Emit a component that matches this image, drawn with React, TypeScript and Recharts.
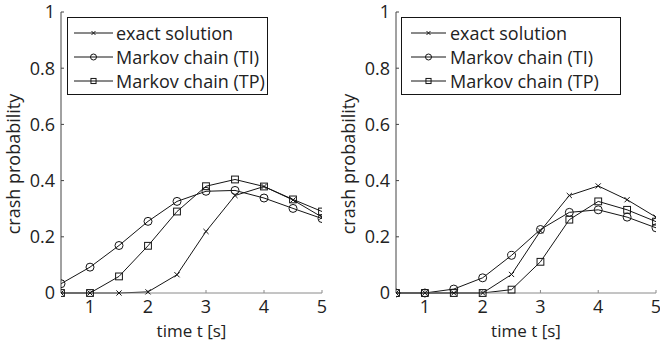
import React from "react";
import { LineChart, Line, XAxis, YAxis, Legend, Label } from "recharts";

const times = [0.5, 1, 1.5, 2, 2.5, 3, 3.5, 4, 4.5, 5];

const leftExact = [0, 0, 0, 0.004, 0.065, 0.219, 0.347, 0.379, 0.331, 0.27];
const leftTI = [0.033, 0.092, 0.169, 0.255, 0.326, 0.362, 0.365, 0.338, 0.301, 0.265];
const leftTP = [0, 0, 0.059, 0.168, 0.29, 0.38, 0.404, 0.379, 0.333, 0.29];

const rightExact = [0, 0, 0, 0, 0.066, 0.221, 0.347, 0.381, 0.332, 0.27];
const rightTI = [0, 0, 0.014, 0.054, 0.134, 0.226, 0.287, 0.296, 0.27, 0.232];
const rightTP = [0, 0, 0, 0, 0.012, 0.111, 0.261, 0.326, 0.296, 0.254];

const xTicks = [1, 2, 3, 4, 5];
const yTicks = [0, 0.2, 0.4, 0.6, 0.8, 1];
const yTickLabels = ["0", "0.2", "0.4", "0.6", "0.8", "1"];

const seriesNames = {
  exact: "exact solution",
  ti: "Markov chain (TI)",
  tp: "Markov chain (TP)",
};

const FONT = "'Open Sans', sans-serif";
const INK = "#151515";

type Kind = "exact" | "ti" | "tp";

function Marker({ kind, cx, cy, s }: { kind: Kind; cx: number; cy: number; s: number }) {
  if (kind === "exact") {
    const h = s * 0.65;
    return (
      <g stroke={INK} strokeWidth={1} fill="none">
        <line x1={cx - h} y1={cy - h} x2={cx + h} y2={cy + h} />
        <line x1={cx - h} y1={cy + h} x2={cx + h} y2={cy - h} />
      </g>
    );
  }
  if (kind === "ti") {
    return <circle cx={cx} cy={cy} r={s} stroke={INK} strokeWidth={1} fill="none" />;
  }
  return (
    <rect
      x={cx - s * 0.85}
      y={cy - s * 0.85}
      width={s * 1.7}
      height={s * 1.7}
      stroke={INK}
      strokeWidth={1}
      fill="none"
    />
  );
}

function makeDot(kind: Kind) {
  return (props: any) => {
    const { cx, cy, index } = props;
    if (cx == null || cy == null) return <g key={`${kind}-${index}`} />;
    return (
      <g key={`${kind}-${index}`}>
        <Marker kind={kind} cx={cx} cy={cy} s={4} />
      </g>
    );
  };
}

function buildRows(exact: number[], ti: number[], tp: number[]) {
  return times.map((t, i) => ({ t, exact: exact[i], ti: ti[i], tp: tp[i] }));
}

interface PanelProps {
  exact: number[];
  ti: number[];
  tp: number[];
  yAxisWidth: number;
  rightMargin: number;
  legendLeft: number;
  legendWidth: number;
  legendLineStart: number;
  legendLineEnd: number;
}

function Panel(p: PanelProps) {
  const rows = buildRows(p.exact, p.ti, p.tp);
  const plotCenterX = p.yAxisWidth + (330 - p.yAxisWidth - p.rightMargin) / 2;
  const yLabelX = p.yAxisWidth - 48;

  const renderLegend = () => (
    <div
      style={{
        width: p.legendWidth,
        height: 73,
        border: `1px solid ${INK}`,
        background: "#fff",
        boxSizing: "content-box",
        paddingTop: 3,
        fontFamily: FONT,
        fontSize: 18,
        color: "#222",
      }}
    >
      {(Object.keys(seriesNames) as Kind[]).map((k) => (
        <div key={k} style={{ display: "flex", alignItems: "center", height: 24 }}>
          <svg width={48} height={24} style={{ flex: "none" }}>
            <line x1={p.legendLineStart} y1={12} x2={p.legendLineEnd} y2={12} stroke={INK} strokeWidth={1} />
            <Marker kind={k} cx={(p.legendLineStart + p.legendLineEnd) / 2} cy={12} s={3} />
          </svg>
          <span style={{ whiteSpace: "nowrap", lineHeight: "24px" }}>{seriesNames[k]}</span>
        </div>
      ))}
    </div>
  );

  return (
    <LineChart
      width={330}
      height={341}
      data={rows}
      margin={{ top: 12, right: p.rightMargin, bottom: 0, left: 0 }}
    >
      <XAxis
        dataKey="t"
        type="number"
        domain={[0.5, 5]}
        ticks={xTicks}
        interval={0}
        height={48}
        allowDataOverflow
        axisLine={{ stroke: "#8a8a8a", strokeWidth: 1 }}
        tickLine={{ stroke: "#8a8a8a", strokeWidth: 1 }}
        tickSize={-3}
        tickMargin={10.5}
        tick={{ fill: "#222", fontSize: 18, fontFamily: FONT }}
      >
        <Label
          content={() => (
            <text
              x={plotCenterX}
              y={337}
              textAnchor="middle"
              fill="#222"
              fontSize={17}
              fontFamily={FONT}
            >
              time t [s]
            </text>
          )}
        />
      </XAxis>
      <YAxis
        type="number"
        domain={[0, 1]}
        ticks={yTicks}
        interval={0}
        width={p.yAxisWidth}
        axisLine={{ stroke: "#444", strokeWidth: 1 }}
        tickLine={{ stroke: "#444", strokeWidth: 1 }}
        tickSize={-3}
        tickMargin={9}
        tickFormatter={(v: number) => yTickLabels[yTicks.indexOf(v)] ?? String(v)}
        tick={{ fill: "#222", fontSize: 18, fontFamily: FONT }}
      >
        <Label
          content={() => (
            <text
              x={yLabelX}
              y={164}
              transform={`rotate(-90 ${yLabelX} 164)`}
              textAnchor="middle"
              dominantBaseline="central"
              fill="#222"
              fontSize={18}
              fontFamily={FONT}
            >
              crash probability
            </text>
          )}
        />
      </YAxis>
      <Legend
        layout="horizontal"
        verticalAlign="middle"
        align="center"
        content={renderLegend}
        wrapperStyle={{ left: p.legendLeft, top: 17, width: "auto" }}
      />
      <Line
        dataKey="exact"
        name={seriesNames.exact}
        stroke={INK}
        strokeWidth={1}
        dot={makeDot("exact")}
        activeDot={false}
        isAnimationActive={false}
      />
      <Line
        dataKey="ti"
        name={seriesNames.ti}
        stroke={INK}
        strokeWidth={1}
        dot={makeDot("ti")}
        activeDot={false}
        isAnimationActive={false}
      />
      <Line
        dataKey="tp"
        name={seriesNames.tp}
        stroke={INK}
        strokeWidth={1}
        dot={makeDot("tp")}
        activeDot={false}
        isAnimationActive={false}
      />
    </LineChart>
  );
}

export default function App() {
  return (
    <div
      style={{
        position: "absolute",
        left: 0,
        top: 0,
        width: 660,
        height: 341,
        overflow: "hidden",
        background: "#fff",
        display: "flex",
      }}
    >
      <Panel
        exact={leftExact}
        ti={leftTI}
        tp={leftTP}
        yAxisWidth={61}
        rightMargin={8}
        legendLeft={67}
        legendWidth={199}
        legendLineStart={6}
        legendLineEnd={45}
      />
      <Panel
        exact={rightExact}
        ti={rightTI}
        tp={rightTP}
        yAxisWidth={66}
        rightMargin={4}
        legendLeft={71}
        legendWidth={218}
        legendLineStart={9}
        legendLineEnd={44}
      />
    </div>
  );
}
